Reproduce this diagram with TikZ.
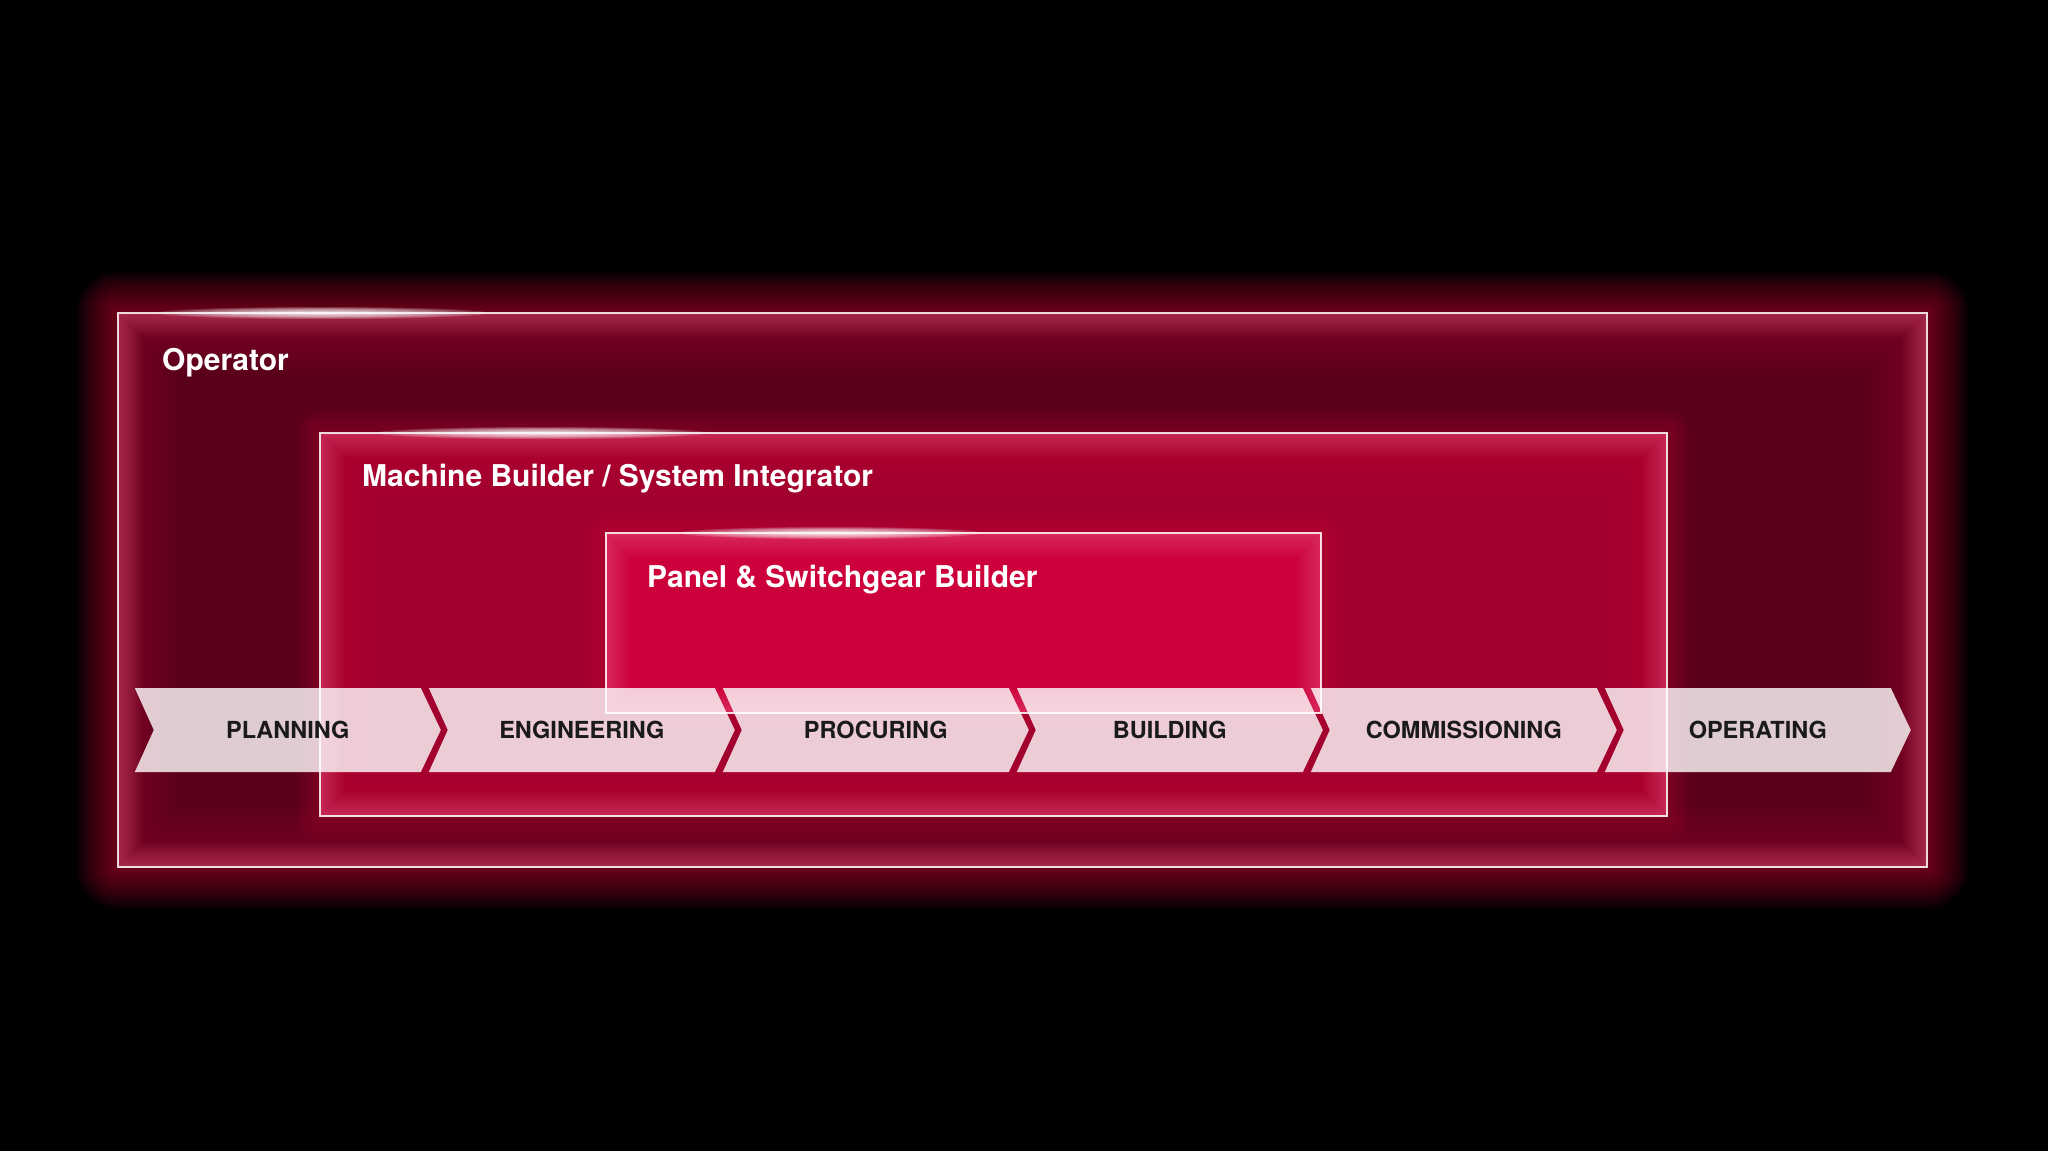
\documentclass[tikz,border=0pt]{standalone}
\usepackage{fontspec}
\setmainfont{TeX Gyre Heros}
\usetikzlibrary{calc}

\definecolor{opred}{HTML}{5A001A}
\definecolor{mbred}{HTML}{A2002E}
\definecolor{psred}{HTML}{CC003A}
\definecolor{glowred}{HTML}{D0003F}
\definecolor{glowpink}{HTML}{FF7AA0}
\definecolor{phaseink}{HTML}{1A1A1A}

\begin{document}
\begin{tikzpicture}[x=1pt, y=-1pt,
  title/.style={anchor=base west, text=white, inner sep=0pt, font=\bfseries\fontsize{30}{36}\selectfont},
  phase/.style={text=phaseink, inner sep=0pt, font=\bfseries\fontsize{23.5}{28}\selectfont},
  chevron/.style={fill=white, fill opacity=0.8},
  frame/.style={draw=white, draw opacity=0.85, line width=2.5pt}]

    % Background
    \fill[black] (0,0) rectangle (2048,1151);
    \useasboundingbox (0,0) rectangle (2048,1151);

    % Box corners
    \coordinate (nwop) at (118,313);
    \coordinate (seop) at (1927,867);
    \coordinate (nwmb) at (320,433);
    \coordinate (semb) at (1667,816);
    \coordinate (nwps) at (606,533);
    \coordinate (seps) at (1321,713);

    % Boxes with outer glow, fill and inner glow
    \foreach \b/\fc/\gw/\go in {op/opred/84/0.035, mb/mbred/48/0.03, ps/psred/40/0.03} {
        \foreach \w in {4,8,...,\gw}
            \draw[glowred, line width=\w pt, line join=round, opacity=\go] (nw\b) rectangle (se\b);
        \fill[\fc] (nw\b) rectangle (se\b);
        \begin{scope}
            \clip (nw\b) rectangle (se\b);
            \foreach \w in {10,20,...,120}
                \draw[glowred, line width=\w pt, line join=round, opacity=0.03] (nw\b) rectangle (se\b);
            \foreach \w in {4,8,...,48}
                \draw[glowpink, line width=\w pt, line join=round, opacity=0.035] (nw\b) rectangle (se\b);
        \end{scope}
        \draw[frame] (nw\b) rectangle (se\b);
    }

    % Highlights on the top edges
    \coordinate (hlop) at (322,313);
    \coordinate (hlmb) at (542,433);
    \coordinate (hlps) at (830,533);
    \foreach \h/\rx in {op/165, mb/165, ps/150} {
        \foreach \k in {1,...,10}
            \fill[white, opacity=0.16] (hl\h) ellipse ({\rx*\k/10} and {6*\k/10});
    }

    % Titles
    \node[title] (opT) at ($(nwop)+(44,57)$) {Operator};
    \node[title] (mbT) at ($(nwmb)+(42,53)$) {Machine Builder / System Integrator};
    \node[title] (psT) at ($(nwps)+(41,54)$) {Panel \& Switchgear Builder};

    % Phase chevrons
    \foreach \t [count=\i from 0] in {PLANNING, ENGINEERING, PROCURING, BUILDING, COMMISSIONING, OPERATING} {
        \pgfmathsetmacro{\L}{134.8+294*\i}
        \fill[chevron] (\L,688) -- ++(286,0) -- ++(20,42) -- ++(-20,42) -- ++(-286,0) -- ++(19,-42) -- cycle;
        \node[phase] (ph\i) at (\L+153,730) {\t};
    }

\end{tikzpicture}
\end{document}
